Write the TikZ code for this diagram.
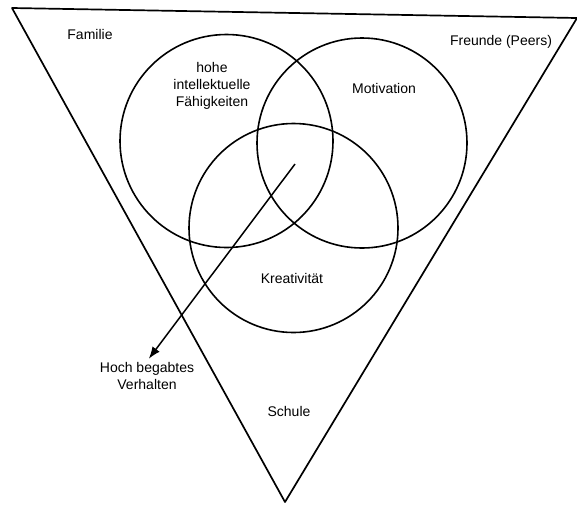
\documentclass[tikz,border=0pt]{standalone}
\usepackage{fontspec}
\setmainfont{Liberation Sans}
\usetikzlibrary{arrows.meta}

\begin{document}
\begin{tikzpicture}[x=1pt, y=-1pt, font=\fontsize{14}{17}\selectfont]
\useasboundingbox (0,0) rectangle (577,504);
\coordinate (tl) at (12,8);
\coordinate (tr) at (577,18);
\coordinate (bt) at (285,502);
\draw[line width=1.7pt, line join=round] (tl) -- (tr) -- (bt) -- cycle;
\node[draw, circle, line width=1.6pt, minimum size=213pt](intel) at (226.5,141){};
\node[draw, circle, line width=1.6pt, minimum size=210pt](moti) at (362,143){};
\node[draw, circle, line width=1.6pt, minimum size=209pt](krea) at (293.5,228){};
\coordinate (mid) at (295,164);
\node (fam) at (90,34){Familie};
\node (peers) at (501,42){Freunde (Peers)};
\node[align=center] (intel_t) at (212,86){hohe\\intellektuelle\\Fähigkeiten};
\node (moti_t) at (384,88){Motivation};
\node (krea_t) at (292,278){Kreativität};
\node[align=center, inner sep=1pt] (verh) at (147,376){Hoch begabtes\\Verhalten};
\node (schule) at (289,411){Schule};
\draw[-{Latex[length=12pt, width=9pt]}, line width=1.5pt, shorten >=3pt] (mid) -- (verh.north);
\end{tikzpicture}
\end{document}
